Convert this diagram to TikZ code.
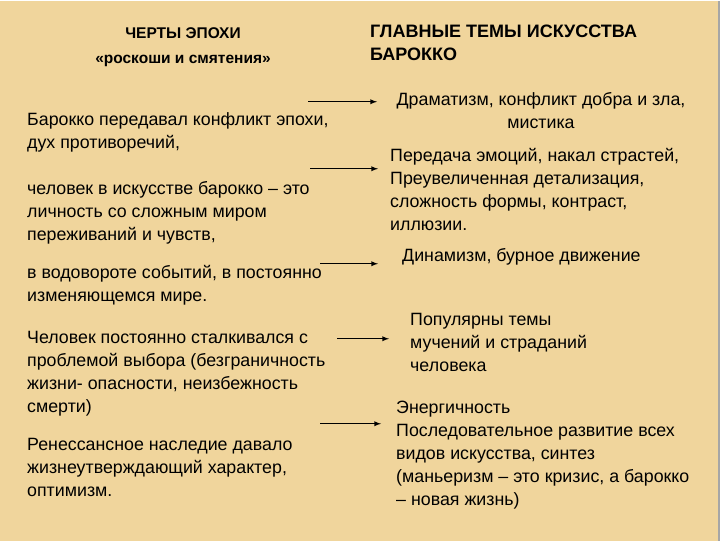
\documentclass[tikz,border=0pt]{standalone}
\usepackage{fontspec}
\setmainfont{Liberation Sans}
\definecolor{bg}{HTML}{F0D59C}
\begin{document}
\begin{tikzpicture}[x=1pt,y=-1pt,
 txt/.style={anchor=north west,align=left,inner sep=0pt,font=\fontsize{17.8}{23}\selectfont},
 ctr/.style={anchor=north,align=center,inner sep=0pt,font=\fontsize{17.8}{23}\selectfont},
 arr/.style={-latex,line width=1.3pt}]
\fill[bg] (0,0) rectangle (720,540);
\draw[gray!70,line width=1.5pt] (719,0) -- (719,540);
\node[ctr,font=\bfseries\fontsize{15.5}{25}\selectfont] (h1) at (183,27) {ЧЕРТЫ ЭПОХИ\\«роскоши и смятения»};
\node[txt,font=\bfseries\fontsize{18}{23}\selectfont] (h2) at (370,24) {ГЛАВНЫЕ ТЕМЫ ИСКУССТВА\\БАРОККО};
\node[txt] (l1) at (27,112) {Барокко передавал конфликт эпохи,\\дух противоречий,};
\node[txt] (l2) at (27,180) {человек в искусстве барокко – это\\личность со сложным миром\\переживаний и чувств,};
\node[txt] (l3) at (27,264) {в водовороте событий, в постоянно\\изменяющемся мире.};
\node[txt] (l4) at (27,330) {Человек постоянно сталкивался с\\проблемой выбора (безграничность\\жизни- опасности, неизбежность\\смерти)};
\node[txt] (l5) at (27,437) {Ренессансное наследие давало\\жизнеутверждающий характер,\\оптимизм.};
\node[ctr] (r1) at (541,91) {Драматизм, конфликт добра и зла,\\мистика};
\node[txt] (r2) at (390,147) {Передача эмоций, накал страстей,\\Преувеличенная детализация,\\сложность формы, контраст,\\иллюзии.};
\node[txt] (r3) at (402,247) {Динамизм, бурное движение};
\node[txt] (r4) at (410,312) {Популярны темы\\мучений и страданий\\человека};
\node[txt] (r5) at (396,400) {Энергичность\\Последовательное развитие всех\\видов искусства, синтез\\(маньеризм – это кризис, а барокко\\– новая жизнь)};
\coordinate (a1s) at (308,101); \coordinate (a1e) at (377,101);
\coordinate (a2s) at (310,168); \coordinate (a2e) at (378,168);
\coordinate (a3s) at (320,263); \coordinate (a3e) at (378,263);
\coordinate (a4s) at (337,338); \coordinate (a4e) at (389,338);
\coordinate (a5s) at (320,423); \coordinate (a5e) at (381,423);
\draw[arr] (a1s) -- (a1e);
\draw[arr] (a2s) -- (a2e);
\draw[arr] (a3s) -- (a3e);
\draw[arr] (a4s) -- (a4e);
\draw[arr] (a5s) -- (a5e);
\end{tikzpicture}
\end{document}
